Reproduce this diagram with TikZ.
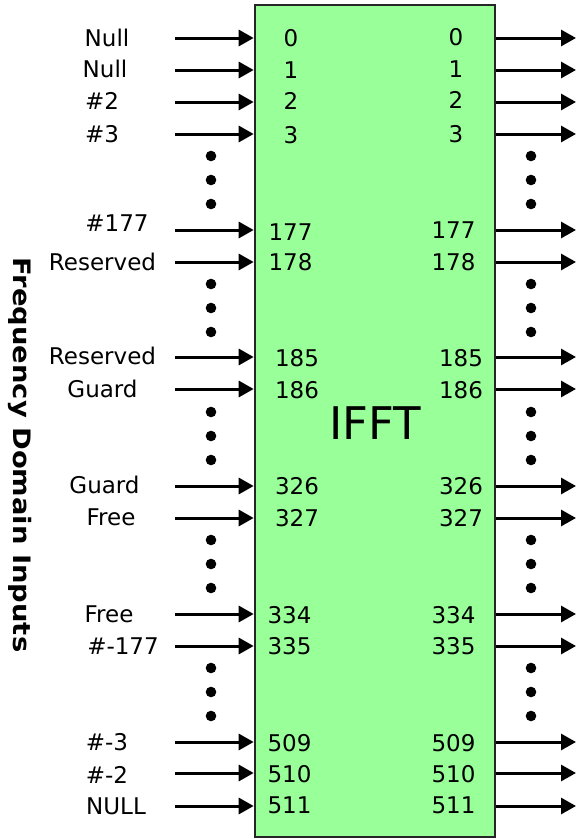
\documentclass[tikz,border=0pt]{standalone}
\usepackage{fontspec}
\setmainfont{DejaVu Sans}
\usetikzlibrary{arrows.meta}
\definecolor{boxgreen}{RGB}{153,255,153}
\begin{document}
\begin{tikzpicture}[x=1pt,y=-1pt,
  txt/.style={inner sep=0pt,anchor=base,font=\fontsize{23}{27}\selectfont},
  arr/.style={line width=3pt,-{Triangle[length=15pt,width=16pt]}},
  blk/.style={draw=black!85,line width=2.6pt,fill=boxgreen,minimum width=240pt,minimum height=832pt,inner sep=0pt},
  dotm/.style={fill=black}]
\useasboundingbox (0,0) rectangle (578,839);
\node[blk] (ifft) at (375,421) {};
\node[inner sep=0pt,anchor=base,font=\fontsize{45}{50}\selectfont] (title) at (375,439) {IFFT};
\foreach \y/\lab/\lx/\lb/\num/\nlx/\nrx/\nlb/\nrb [count=\i] in {
  38/Null/107/46/0/291/456/46/45,
  70/Null/105/77/1/291/456/78/77,
  102/\#2/102/109/2/291/456/109/108,
  134/\#3/102/142/3/291/456/143/142,
  230/\#177/117/231/177/290.5/453.5/240/238,
  262/Reserved/102.5/270/178/290.5/453.5/270/270,
  357/Reserved/102.5/364/185/297/461/366/366,
  389/Guard/102.5/397/186/297/461/398/398,
  486/Guard/104.5/493/326/297/461/494/494,
  518/Free/111/525/327/297/461/526/526,
  614/Free/109/622/334/289.5/453.5/623/623,
  646/\#-177/123/654/335/289.5/453.5/654/654,
  742/\#-3/107/750/509/289.5/453.5/751/751,
  773/\#-2/107/783/510/289.5/453.5/782/782,
  806/NULL/116/814/511/289.5/453.5/813/813}{
  \node[txt] (lab\i) at (\lx,\lb) {\lab};
  \node[txt] (nl\i) at (\nlx,\nlb) {\num};
  \node[txt] (nr\i) at (\nrx,\nrb) {\num};
  \coordinate (in\i) at (175,\y);
  \coordinate (out\i) at (576,\y);
  \draw[arr] (in\i) -- (in\i -| ifft.west);
  \draw[arr] (out\i -| ifft.east) -- (out\i);
}
\foreach \b in {134,262,390,518,646}{
  \foreach \d in {22,46,70}{
    \fill[dotm] (211,\b+\d) circle (5.3pt);
    \fill[dotm] (531,\b+\d) circle (5.3pt);
  }
}
\node[inner sep=0pt,rotate=-90,font=\fontsize{24}{27}\selectfont\bfseries] (side) at (20,455) {\scalebox{1.14}[1]{Frequency Domain Inputs}};
\end{tikzpicture}
\end{document}
